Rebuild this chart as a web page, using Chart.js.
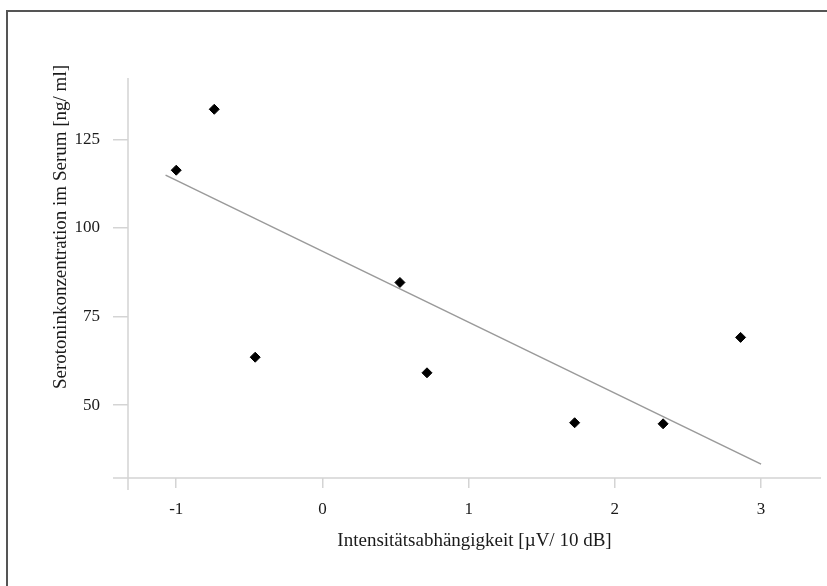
<!DOCTYPE html>
<html>
<head>
<meta charset="utf-8">
<script src="https://cdn.jsdelivr.net/npm/chart.js@4.4.1/dist/chart.umd.min.js"></script>
<style>
  body { margin: 0; background: #fff; }
  #wrap { position: relative; width: 827px; height: 586px; overflow: hidden; }
  #frame { position: absolute; left: 6px; top: 10px; right: -10px; bottom: -10px;
           border-left: 2px solid #555; border-top: 2px solid #555; }
  canvas { position: absolute; left: 0; top: 0; }
</style>
</head>
<body>
<div id="wrap">
  <div id="frame"></div>
  <canvas id="scatter" width="827" height="586"></canvas>
</div>
<script>
var xValues = [-1.0, -0.74, -0.46, 0.53, 0.715, 1.725, 2.33, 2.86];
var yValues = [116.3, 133.5, 63.5, 84.6, 59.1, 45.0, 44.7, 69.1];
// Regressionsgerade (Endpunkte)
var lineX = [-1.073, 3.0];
var lineY = [114.9, 33.3];
var xTicks = [-1, 0, 1, 2, 3];
var yTicks = [50, 75, 100, 125];
var xTitle = 'Intensitätsabhängigkeit [µV/ 10 dB]';
var yTitle = 'Serotoninkonzentration im Serum [ng/ ml]';

var axisColor = '#d4d4d4';
var textColor = '#1a1a1a';
var serif = "'Liberation Serif', 'DejaVu Serif', serif";

// axis lines like the original (they stick out past the corner)
var axisLines = {
    id: 'axisLines',
    afterDraw: function (chart) {
        var ctx = chart.ctx;
        var a = chart.chartArea;
        var ys = chart.scales.y;
        ctx.save();
        ctx.strokeStyle = axisColor;
        ctx.lineWidth = 1.5;
        ctx.beginPath();
        ctx.moveTo(a.left, ys.getPixelForValue(142.3));
        ctx.lineTo(a.left, a.bottom + 12);
        ctx.moveTo(a.left - 15, a.bottom);
        ctx.lineTo(a.right, a.bottom);
        ctx.stroke();
        ctx.restore();
    }
};

var points = [];
for (i = 0; i < xValues.length; i++) {
    points.push({ x: xValues[i], y: yValues[i] });
}
var linePts = [];
for (i = 0; i < lineX.length; i++) {
    linePts.push({ x: lineX[i], y: lineY[i] });
}

var ctx = document.getElementById('scatter').getContext('2d');
var chart = new Chart(ctx, {
    type: 'scatter',
    data: {
        datasets: [
            {
                data: linePts,
                showLine: true,
                borderColor: '#9a9a9a',
                borderWidth: 1.5,
                pointRadius: 0,
                fill: false
            },
            {
                data: points,
                pointStyle: 'rectRot',
                pointRadius: 5,
                pointBackgroundColor: '#000',
                pointBorderColor: '#000',
                pointBorderWidth: 1
            }
        ]
    },
    options: {
        responsive: false,
        animation: false,
        layout: { padding: { top: 65, right: 0, bottom: 0, left: 0 } },
        plugins: { legend: { display: false }, tooltip: { enabled: false } },
        scales: {
            x: {
                type: 'linear',
                min: -1.33,
                max: 3.41,
                afterFit: function (s) { s.height = 108; },
                afterBuildTicks: function (s) { s.ticks = xTicks.map(function (v) { return { value: v }; }); },
                border: { display: false },
                grid: { drawOnChartArea: false, tickLength: 10, color: axisColor, lineWidth: 1.5 },
                ticks: { color: textColor, padding: 11, font: { family: serif, size: 17 } },
                title: {
                    display: true, text: xTitle, color: textColor,
                    font: { family: serif, size: 19 },
                    padding: { top: 0, bottom: 34 }
                }
            },
            y: {
                type: 'linear',
                min: 29.4,
                max: 146,
                afterFit: function (s) { s.width = 128; },
                afterBuildTicks: function (s) { s.ticks = yTicks.map(function (v) { return { value: v }; }); },
                border: { display: false },
                grid: { drawOnChartArea: false, tickLength: 15, color: axisColor, lineWidth: 1.5 },
                ticks: { color: textColor, padding: 13, font: { family: serif, size: 17 } },
                title: {
                    display: true, text: yTitle, color: textColor, align: 'end',
                    font: { family: serif, size: 19 },
                    padding: { top: 50, bottom: 0 }
                }
            }
        }
    },
    plugins: [axisLines]
});
</script>
</body>
</html>
